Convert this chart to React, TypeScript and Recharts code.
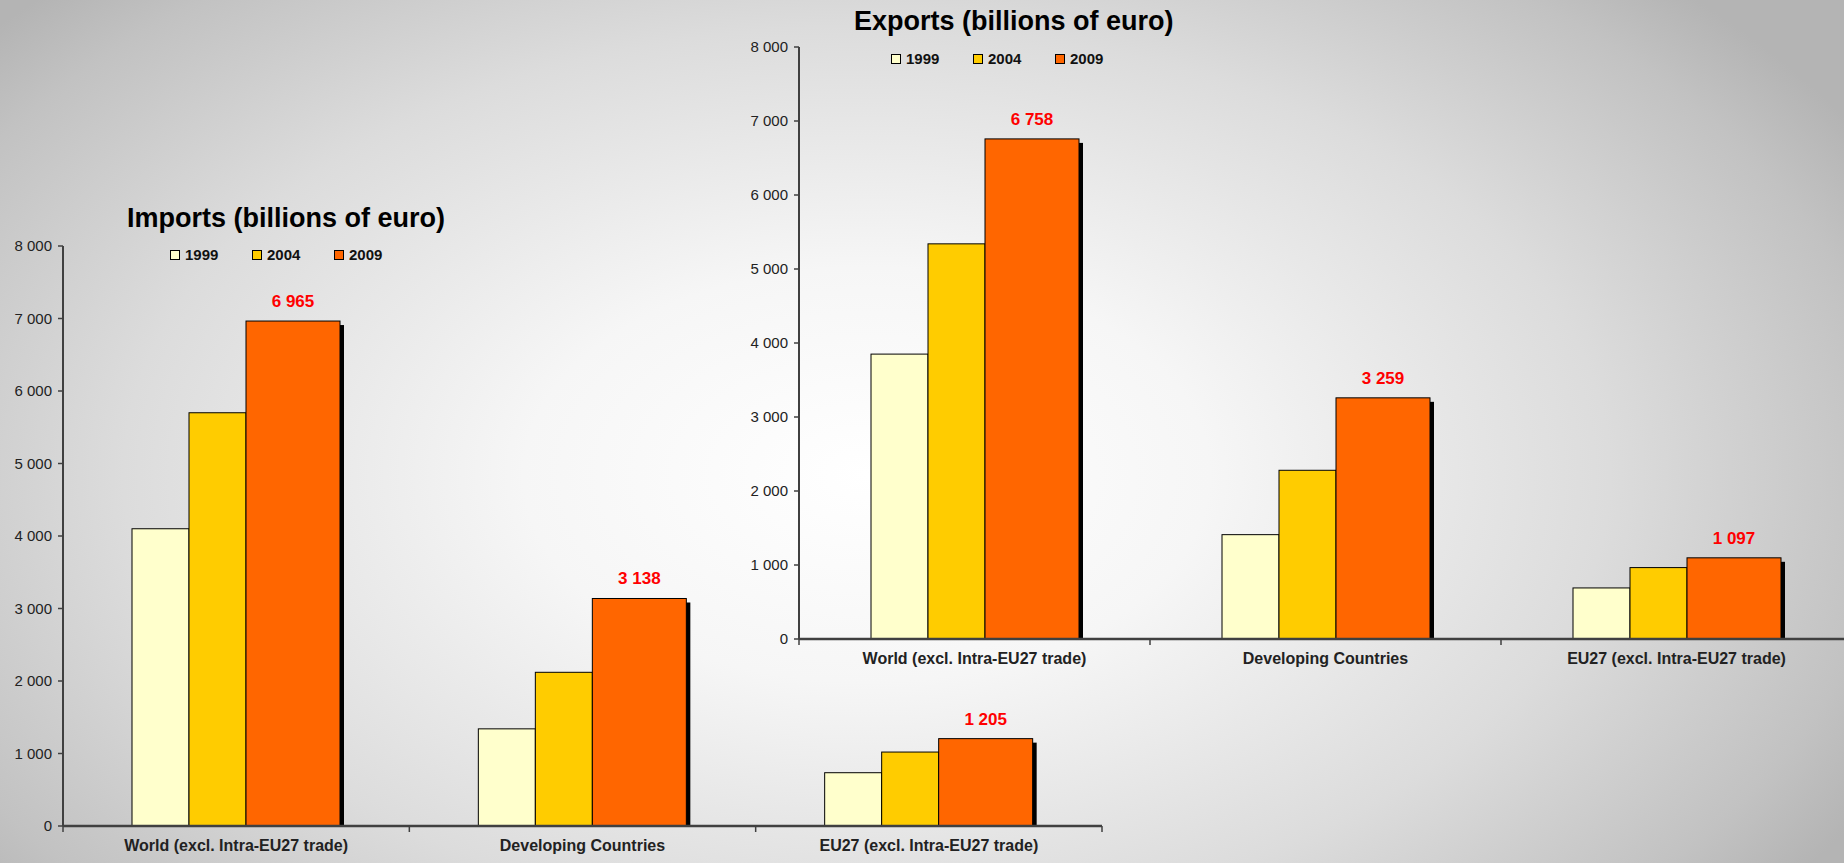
import React from 'react';
import { BarChart, Bar, XAxis, YAxis, Legend, LabelList } from 'recharts';

const categories = ['World (excl. Intra-EU27 trade)', 'Developing Countries', 'EU27 (excl. Intra-EU27 trade)'];
const years = ['1999', '2004', '2009'];
const yearColors = ['#FFFFCC', '#FFCC00', '#FF6600'];

// billions of euro
const imports1999 = [4100, 1340, 735];
const imports2004 = [5700, 2120, 1020];
const imports2009 = [6965, 3138, 1205];

const exports1999 = [3850, 1410, 690];
const exports2004 = [5340, 2280, 965];
const exports2009 = [6758, 3259, 1097];

const yTicks = [0, 1000, 2000, 3000, 4000, 5000, 6000, 7000, 8000];

const FONT = 'Arial, "Liberation Sans", sans-serif';

const fmt = (v: number) => String(v).replace(/\B(?=(\d{3})+(?!\d))/g, ' ');

const buildRows = (a: number[], b: number[], c: number[]) =>
    categories.map((name, i) => ({ name, y1999: a[i], y2004: b[i], y2009: c[i] }));

const importRows = buildRows(imports1999, imports2004, imports2009);
const exportRows = buildRows(exports1999, exports2004, exports2009);

const ShadowBar = (props: any) => {
    const { x, y, width, height, fill } = props;
    if (!height || height <= 0) return null;
    return (
        <g>
            <rect x={x + 4} y={y + 4} width={width} height={Math.max(0, height - 4)} fill="#000" />
            <rect x={x} y={y} width={width} height={height} fill={fill} stroke="#000" strokeWidth={1} />
        </g>
    );
};

const makeCategoryTick = (band: number) => (props: any) => {
    const { x, y, payload, index } = props;
    const half = band / 2;
    return (
        <g>
            <line x1={x - half} x2={x - half} y1={y} y2={y + 6} stroke="#404040" strokeWidth={1.5} />
            {index === categories.length - 1 && (
                <line x1={x + half} x2={x + half} y1={y} y2={y + 6} stroke="#404040" strokeWidth={1.5} />
            )}
            <text x={x} y={y + 25} textAnchor="middle" fontSize={16} fontWeight="bold" fill="#222" fontFamily={FONT}>
                {payload.value}
            </text>
        </g>
    );
};

const YearLegend = (props: any) => {
    const { payload } = props;
    return (
        <div style={{ display: 'flex', fontFamily: FONT }}>
            {(payload || []).map((entry: any) => (
                <div key={entry.value} style={{ width: 82, height: 18, display: 'flex', alignItems: 'center' }}>
                    <span
                        style={{
                            width: 10,
                            height: 10,
                            boxSizing: 'border-box',
                            border: '1px solid #000',
                            background: entry.color,
                            marginRight: 5,
                        }}
                    />
                    <span style={{ fontSize: 15, fontWeight: 'bold', lineHeight: '18px', color: '#111' }}>{entry.value}</span>
                </div>
            ))}
        </div>
    );
};

const barSizes = [57, 57, 94];

type TradeChartProps = {
    rows: any[];
    width: number;
    height: number;
    margin: { top: number; right: number; bottom: number; left: number };
    yAxisWidth: number;
    legendPos: { left: number; top: number };
};

function TradeChart({ rows, width, height, margin, yAxisWidth, legendPos }: TradeChartProps) {
    const band = (width - margin.left - margin.right - yAxisWidth) / categories.length;
    return (
        <BarChart width={width} height={height} data={rows} margin={margin} barGap={0}>
            <XAxis
                dataKey="name"
                interval={0}
                tickSize={0}
                tickMargin={0}
                height={30}
                axisLine={{ stroke: '#404040', strokeWidth: 2.5 }}
                tick={makeCategoryTick(band)}
            />
            <YAxis
                width={yAxisWidth}
                domain={[0, 8000]}
                ticks={yTicks}
                interval={0}
                tickFormatter={fmt}
                tickSize={5}
                tickMargin={6}
                axisLine={{ stroke: '#404040', strokeWidth: 2 }}
                tickLine={{ stroke: '#404040', strokeWidth: 1.5 }}
                tick={{ fontSize: 15, fill: '#222', fontFamily: FONT }}
            />
            <Legend
                layout="horizontal"
                verticalAlign="middle"
                align="center"
                content={<YearLegend />}
                wrapperStyle={{ left: legendPos.left, top: legendPos.top, width: 260, right: 'auto', bottom: 'auto' }}
            />
            {years.map((yr, i) => (
                <Bar
                    key={yr}
                    dataKey={`y${yr}`}
                    name={yr}
                    fill={yearColors[i]}
                    barSize={barSizes[i]}
                    isAnimationActive={false}
                    shape={ShadowBar}
                >
                    {yr === '2009' && (
                        <LabelList
                            dataKey={`y${yr}`}
                            position="top"
                            offset={14}
                            formatter={(v: any) => fmt(Number(v))}
                            fill="#FF0000"
                            fontSize={17}
                            fontWeight="bold"
                            fontFamily={FONT}
                        />
                    )}
                </Bar>
            ))}
        </BarChart>
    );
}

const titleStyle: React.CSSProperties = {
    position: 'absolute',
    fontFamily: FONT,
    fontSize: 27,
    fontWeight: 'bold',
    lineHeight: 1,
    color: '#000',
    whiteSpace: 'nowrap',
};

export default function App() {
    return (
        <div
            style={{
                position: 'absolute',
                left: 0,
                top: 0,
                width: 1844,
                height: 863,
                overflow: 'hidden',
                fontFamily: FONT,
                background:
                    'radial-gradient(ellipse 62% 80% at 47% 55%, #ffffff 0%, #f6f6f6 30%, #dcdcdc 65%, #c2c2c2 90%, #b4b4b4 100%)',
            }}
        >
            <div style={{ position: 'absolute', left: 0, top: 190 }}>
                <TradeChart
                    rows={importRows}
                    width={1110}
                    height={673}
                    margin={{ top: 56, right: 8, bottom: 7, left: 0 }}
                    yAxisWidth={63}
                    legendPos={{ left: 170, top: 56 }}
                />
            </div>
            <div style={{ position: 'absolute', left: 730, top: 0 }}>
                <TradeChart
                    rows={exportRows}
                    width={1130}
                    height={690}
                    margin={{ top: 47, right: 8, bottom: 21, left: 0 }}
                    yAxisWidth={69}
                    legendPos={{ left: 161, top: 50 }}
                />
            </div>
            <div style={{ ...titleStyle, left: 127, top: 205 }}>Imports (billions of euro)</div>
            <div style={{ ...titleStyle, left: 854, top: 8 }}>Exports (billions of euro)</div>
        </div>
    );
}
